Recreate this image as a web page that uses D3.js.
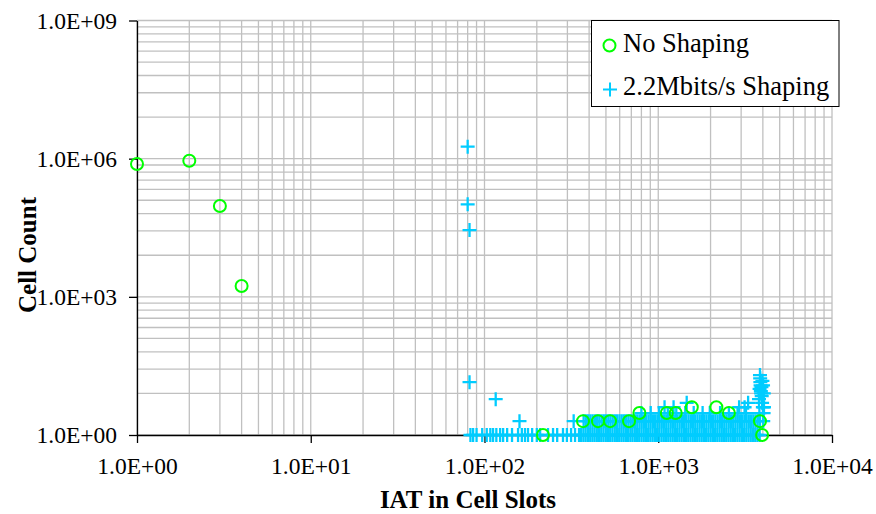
<!DOCTYPE html>
<html><head><meta charset="utf-8">
<script src="https://cdn.jsdelivr.net/npm/d3@7"></script>
<style>body{margin:0;background:#fff} svg{display:block}</style>
</head><body><svg id="c" width="876" height="514"></svg>
<script>
// ---- data ----
const xTickValues = [1, 10, 100, 1000, 10000];
const xTickLabels = ["1.0E+00", "1.0E+01", "1.0E+02", "1.0E+03", "1.0E+04"];
const yTickValues = [1, 1e3, 1e6, 1e9];
const yTickLabels = ["1.0E+00", "1.0E+03", "1.0E+06", "1.0E+09"];
const seriesNames = ["No Shaping", "2.2Mbits/s Shaping"];
const xTitle = "IAT in Cell Slots";
const yTitle = "Cell Count";

// No Shaping (IAT, count)
const noShapingIAT   = [1, 2, 3, 4, 217, 369, 450, 528, 679, 779, 1120, 1260, 1560, 2160, 2550, 3850, 3960];
const noShapingCount = [765000, 900000, 94000, 1720, 1, 2, 2, 2, 2, 3, 3, 3, 4, 4, 3, 2, 1];

// 2.2Mbits/s Shaping: IATs with a count of 1
const shapedCount1IAT = [83, 86, 90, 97, 103, 108, 112, 117, 123, 128, 135, 144, 156, 164, 171, 178, 188, 200, 209, 232, 248, 262, 283, 298, 315, 332,
  350, 360, 371, 382, 394, 406, 418, 430, 443, 457, 470, 484, 499, 514, 529, 545, 562, 578, 596, 614, 632, 651, 670, 691, 711, 733, 755, 777,
  801, 825, 849, 875, 901, 928, 956, 985, 1014, 1045, 1076, 1108, 1142, 1176, 1211, 1247, 1285, 1323, 1363, 1404, 1446, 1489, 1534, 1580,
  1627, 1676, 1727, 1778, 1832, 1887, 1943, 2002, 2062, 2124, 2187, 2253, 2320, 2390, 2462, 2536, 2612, 2690, 2771, 2854, 2939, 3028, 3118,
  3212, 3308, 3407, 3510, 3615, 3723, 3835];
// IATs with a count of 2
const shapedCount2IAT = [159, 326, 372, 383, 395, 407, 419, 432, 445, 458, 472, 486, 501, 516, 531, 547, 563, 580, 598, 616, 634, 653, 673, 693,
  714, 735, 757, 780, 803, 827, 852, 878, 904, 931, 959, 988, 1018, 1048, 1080, 1112, 1145, 1180, 1215, 1252, 1289, 1328, 1368, 1409, 1451,
  1495, 1540, 1586, 1633, 1682, 1733, 1785, 1838, 1893, 1950, 2009, 2069, 2131, 2195, 2261, 2329, 2399, 2470, 2545, 2621, 2700, 2781, 2864,
  2950, 3039, 3130, 3224, 3320, 3420, 3523, 3628, 3737, 3850, 4020];
// IATs with a count of 3
const shapedCount3IAT = [800, 905, 1010, 1135, 1270, 1430, 1600, 1800, 1980, 2270, 2550, 2860, 3200, 3820, 4040];
// remaining points (IAT, count)
const shapedOtherIAT   = [80, 80, 82, 82, 116, 1087, 1225, 1458, 2920, 3140, 3290,
  3800, 3830, 3850, 3860, 3870, 3880, 3895, 3910, 3925, 3940, 3960, 3975, 4000, 4010, 4050, 4060];
const shapedOtherCount = [1820000, 102000, 28200, 14, 6, 4, 4, 5, 4, 4, 5,
  6, 10, 20, 17, 14, 12, 9, 8, 11, 7, 5, 15, 4, 12, 8, 4];

// ---- chart ----
const svg = d3.select("#c");
const x = d3.scaleLog().domain([1, 10000]).range([137, 832]);
const y = d3.scaleLog().domain([1, 1e9]).range([435, 20.5]);
const FONT = "'Liberation Serif','Times New Roman',serif";
const GREEN = "#00FF00", CYAN = "#00CCFF";

// grid
const xGrid = [];
for (let n = 0; n < 4; n++) for (let k = 1; k <= 9; k++) xGrid.push(k * Math.pow(10, n));
xGrid.push(10000);
const yGrid = [];
for (let n = 0; n < 3; n++) for (let k = 1; k <= 9; k++) yGrid.push(k * k * k * Math.pow(1000, n));
yGrid.push(1e9);

const grid = svg.append("g").attr("stroke", "#c0c0c0").attr("stroke-width", 1.3);
grid.selectAll("line.v").data(xGrid).join("line").attr("class", "v")
  .attr("x1", d => x(d)).attr("x2", d => x(d)).attr("y1", y(1e9)).attr("y2", y(1));
grid.selectAll("line.h").data(yGrid).join("line").attr("class", "h")
  .attr("x1", x(1)).attr("x2", x(10000)).attr("y1", d => y(d)).attr("y2", d => y(d));

// axes
const xAxis = svg.append("g").attr("transform", `translate(0,${y(1)})`)
  .call(d3.axisBottom(x).tickValues(xTickValues).tickFormat((d, i) => xTickLabels[i]).tickSize(8).tickSizeOuter(0).tickPadding(14));
const yAxis = svg.append("g").attr("transform", `translate(${x(1)},0)`)
  .call(d3.axisLeft(y).tickValues(yTickValues).tickFormat((d, i) => yTickLabels[i]).tickSize(8).tickSizeOuter(0).tickPadding(12));
[xAxis, yAxis].forEach(g => {
  g.attr("font-family", FONT).attr("font-size", 23.5);
  g.selectAll("path.domain").attr("stroke", "#000").attr("stroke-width", 1.3);
  g.selectAll(".tick line").attr("stroke", "#000").attr("stroke-width", 1.3);
  g.selectAll(".tick text").attr("fill", "#000");
});

// cyan crosses
const crossPath = "M-7,0H7M0,-7V7";
const shapedPoints = []
  .concat(shapedCount1IAT.map(v => [v, 1]))
  .concat(shapedCount2IAT.map(v => [v, 2]))
  .concat(shapedCount3IAT.map(v => [v, 3]))
  .concat(shapedOtherIAT.map((v, i) => [v, shapedOtherCount[i]]));
svg.append("g").selectAll("path").data(shapedPoints).join("path")
  .attr("d", crossPath)
  .attr("transform", d => `translate(${x(d[0])},${y(d[1])})`)
  .attr("stroke", CYAN).attr("stroke-width", 2.3).attr("fill", "none");

// green circles
const noShapingPoints = noShapingIAT.map((v, i) => [v, noShapingCount[i]]);
svg.append("g").selectAll("circle").data(noShapingPoints).join("circle")
  .attr("cx", d => x(d[0])).attr("cy", d => y(d[1])).attr("r", 6)
  .attr("stroke", GREEN).attr("stroke-width", 2).attr("fill", "none");

// axis titles
svg.append("text").attr("x", 468).attr("y", 508).attr("text-anchor", "middle")
  .attr("font-family", FONT).attr("font-size", 25).attr("font-weight", "bold").text(xTitle);
svg.append("text").attr("transform", "translate(36,255) rotate(-90)").attr("text-anchor", "middle")
  .attr("font-family", FONT).attr("font-size", 25).attr("font-weight", "bold").text(yTitle);

// legend
const lg = svg.append("g");
lg.append("rect").attr("x", 591.5).attr("y", 20.5).attr("width", 247.5).attr("height", 86)
  .attr("fill", "#fff").attr("stroke", "#000").attr("stroke-width", 1);
lg.append("circle").attr("cx", 609.5).attr("cy", 45.5).attr("r", 6)
  .attr("stroke", GREEN).attr("stroke-width", 2).attr("fill", "none");
lg.append("path").attr("d", crossPath).attr("transform", "translate(610,89.5)")
  .attr("stroke", CYAN).attr("stroke-width", 2).attr("fill", "none");
lg.selectAll("text").data(seriesNames).join("text")
  .attr("x", 623).attr("y", (d, i) => 52 + i * 42.5)
  .attr("font-family", FONT).attr("font-size", 26.5).attr("fill", "#000").text(d => d);
</script></body></html>
